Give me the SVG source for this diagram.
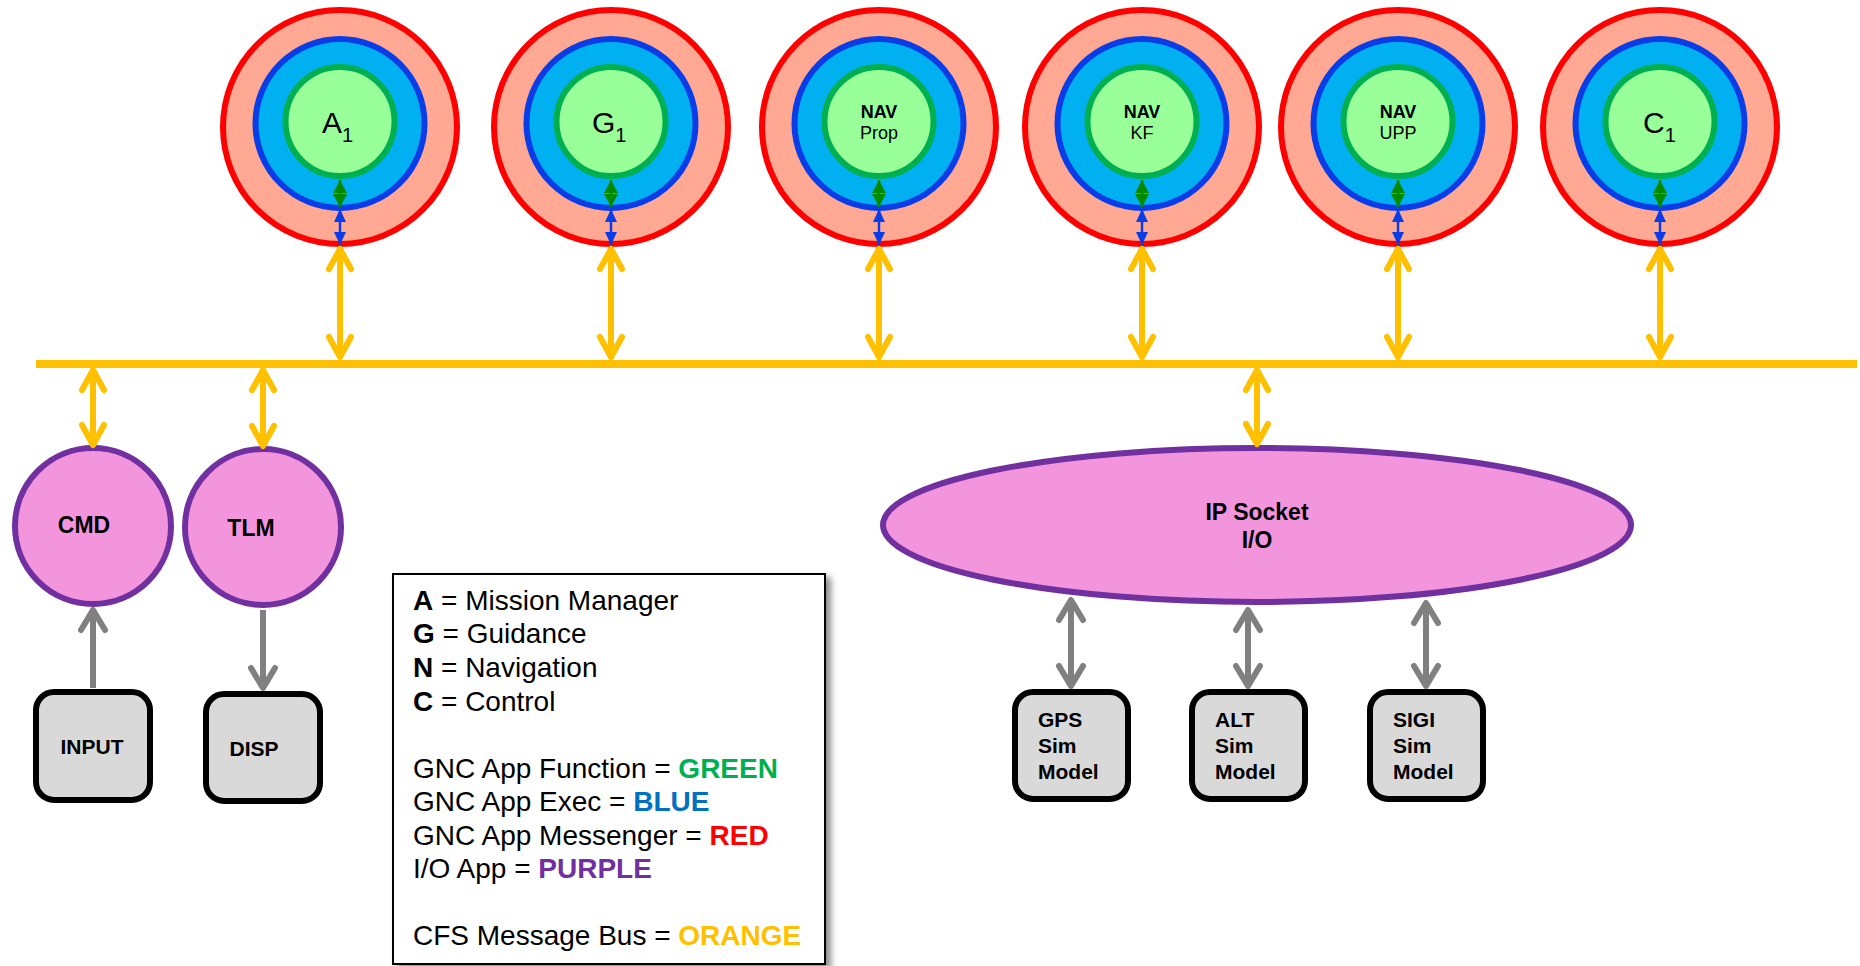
<svg xmlns="http://www.w3.org/2000/svg" width="1860" height="966" viewBox="0 0 1860 966">
  <style>
    text { font-family: "Liberation Sans", Arial, sans-serif; fill: #000; }
    .messenger { fill: #FFA893; stroke: #FF0000; stroke-width: 6; }
    .exec { fill: #00B0F0; stroke: #0A3CE8; stroke-width: 6; }
    .func { fill: #99FF99; stroke: #00B050; stroke-width: 6; }
    .io { fill: #F395DD; stroke: #7030A0; stroke-width: 6; }
    .model { fill: #D9D9D9; stroke: #000; stroke-width: 6; }
    .bus { stroke: #FFC000; stroke-width: 8; fill: none; }
    .bus-link { stroke: #FFC000; stroke-width: 6; fill: none; marker-start: url(#headY); marker-end: url(#headY); }
    .sim-link { stroke: #808080; stroke-width: 6; fill: none; marker-end: url(#headG); }
    .sim-link.both { marker-start: url(#headG); }
    .fx-link { stroke: #008A00; stroke-width: 2.5; fill: none; marker-start: url(#headSG); marker-end: url(#headSG); }
    .ex-link { stroke: #0A3CE8; stroke-width: 2.5; fill: none; marker-start: url(#headSB); marker-end: url(#headSB); }
    .sub { font-size: 30px; }
    .nav { font-size: 18px; text-anchor: middle; }
    .lbl { font-size: 23px; font-weight: bold; text-anchor: middle; }
    .mdl { font-size: 21px; font-weight: bold; }
    .legend { font-size: 28px; }
    .b { font-weight: bold; }
  </style>
  <defs>
    <marker id="headY" markerUnits="userSpaceOnUse" viewBox="0 0 26 26" markerWidth="26" markerHeight="26" refX="23" refY="13" orient="auto-start-reverse" overflow="visible">
      <path d="M3,2 L23,13 L3,24" fill="none" stroke="#FFC000" stroke-width="6" stroke-linecap="round" stroke-linejoin="round"/>
    </marker>
    <marker id="headG" markerUnits="userSpaceOnUse" viewBox="0 0 26 26" markerWidth="26" markerHeight="26" refX="23" refY="13" orient="auto-start-reverse" overflow="visible">
      <path d="M3,1 L23,13 L3,25" fill="none" stroke="#808080" stroke-width="6" stroke-linecap="round" stroke-linejoin="round"/>
    </marker>
    <marker id="headSG" markerUnits="userSpaceOnUse" viewBox="0 0 14 16" markerWidth="14" markerHeight="16" refX="13" refY="8" orient="auto-start-reverse" overflow="visible">
      <path d="M0,1 L13,8 L0,15 Z" fill="#008A00"/>
    </marker>
    <marker id="headSB" markerUnits="userSpaceOnUse" viewBox="0 0 14 16" markerWidth="14" markerHeight="16" refX="13" refY="8" orient="auto-start-reverse" overflow="visible">
      <path d="M0,2 L13,8 L0,14 Z" fill="#0A3CE8"/>
    </marker>
    <filter id="shadow" x="-5%" y="-5%" width="115%" height="115%">
      <feDropShadow dx="5" dy="4" stdDeviation="3" flood-color="#000" flood-opacity="0.45"/>
    </filter>
  </defs>

  <!-- GNC apps: messenger / exec / function rings -->
  <g id="app-A1">
    <circle class="messenger" cx="340" cy="127" r="117"/>
    <circle class="exec" cx="340" cy="123.5" r="84.5"/>
    <circle class="func" cx="340" cy="121.5" r="54.5"/>
    <text class="sub" x="322" y="133">A<tspan font-size="20" dy="9">1</tspan></text>
  </g>
  <g id="app-G1">
    <circle class="messenger" cx="611" cy="127" r="117"/>
    <circle class="exec" cx="611" cy="123.5" r="84.5"/>
    <circle class="func" cx="611" cy="121.5" r="54.5"/>
    <text class="sub" x="592" y="133">G<tspan font-size="20" dy="9">1</tspan></text>
  </g>
  <g id="app-nav-prop">
    <circle class="messenger" cx="879" cy="127" r="117"/>
    <circle class="exec" cx="879" cy="123.5" r="84.5"/>
    <circle class="func" cx="879" cy="121.5" r="54.5"/>
    <text class="nav b" x="879" y="118">NAV</text>
    <text class="nav" x="879" y="139">Prop</text>
  </g>
  <g id="app-nav-kf">
    <circle class="messenger" cx="1142" cy="127" r="117"/>
    <circle class="exec" cx="1142" cy="123.5" r="84.5"/>
    <circle class="func" cx="1142" cy="121.5" r="54.5"/>
    <text class="nav b" x="1142" y="118">NAV</text>
    <text class="nav" x="1142" y="139">KF</text>
  </g>
  <g id="app-nav-upp">
    <circle class="messenger" cx="1398" cy="127" r="117"/>
    <circle class="exec" cx="1398" cy="123.5" r="84.5"/>
    <circle class="func" cx="1398" cy="121.5" r="54.5"/>
    <text class="nav b" x="1398" y="118">NAV</text>
    <text class="nav" x="1398" y="139">UPP</text>
  </g>
  <g id="app-C1">
    <circle class="messenger" cx="1660" cy="127" r="117"/>
    <circle class="exec" cx="1660" cy="123.5" r="84.5"/>
    <circle class="func" cx="1660" cy="121.5" r="54.5"/>
    <text class="sub" x="1643" y="133">C<tspan font-size="20" dy="9">1</tspan></text>
  </g>

  <!-- I/O apps -->
  <g id="io-cmd">
    <circle class="io" cx="93" cy="526" r="78"/>
    <text class="lbl" x="84" y="533">CMD</text>
  </g>
  <g id="io-tlm">
    <circle class="io" cx="263" cy="527" r="78"/>
    <text class="lbl" x="251" y="536">TLM</text>
  </g>
  <g id="io-socket">
    <ellipse class="io" cx="1257" cy="525" rx="374" ry="77"/>
    <text class="lbl" x="1257" y="520">IP Socket</text>
    <text class="lbl" x="1257" y="548">I/O</text>
  </g>

  <!-- ground side devices and sim models -->
  <g id="dev-input">
    <rect class="model" x="36" y="692" width="114" height="108" rx="18"/>
    <text class="mdl" x="92" y="754" text-anchor="middle">INPUT</text>
  </g>
  <g id="dev-disp">
    <rect class="model" x="206" y="694" width="114" height="107" rx="18"/>
    <text class="mdl" x="254" y="756" text-anchor="middle">DISP</text>
  </g>
  <g id="sim-gps">
    <rect class="model" x="1015" y="692" width="113" height="107" rx="18"/>
    <text class="mdl" x="1038" y="727">GPS</text>
    <text class="mdl" x="1038" y="753">Sim</text>
    <text class="mdl" x="1038" y="779">Model</text>
  </g>
  <g id="sim-alt">
    <rect class="model" x="1192" y="692" width="113" height="107" rx="18"/>
    <text class="mdl" x="1215" y="727">ALT</text>
    <text class="mdl" x="1215" y="753">Sim</text>
    <text class="mdl" x="1215" y="779">Model</text>
  </g>
  <g id="sim-sigi">
    <rect class="model" x="1370" y="692" width="113" height="107" rx="18"/>
    <text class="mdl" x="1393" y="727">SIGI</text>
    <text class="mdl" x="1393" y="753">Sim</text>
    <text class="mdl" x="1393" y="779">Model</text>
  </g>

  <!-- legend -->
  <g id="legend">
    <rect x="393" y="574" width="432" height="390" fill="#fff" stroke="#000" stroke-width="2" filter="url(#shadow)"/>
    <text class="legend" x="413" y="610"><tspan class="b">A</tspan> = Mission Manager</text>
    <text class="legend" x="413" y="643"><tspan class="b">G</tspan> = Guidance</text>
    <text class="legend" x="413" y="677"><tspan class="b">N</tspan> = Navigation</text>
    <text class="legend" x="413" y="711"><tspan class="b">C</tspan> = Control</text>
    <text class="legend" x="413" y="778">GNC App Function = <tspan class="b" fill="#00B050">GREEN</tspan></text>
    <text class="legend" x="413" y="811">GNC App Exec = <tspan class="b" fill="#0070C0">BLUE</tspan></text>
    <text class="legend" x="413" y="845">GNC App Messenger = <tspan class="b" fill="#FF0000">RED</tspan></text>
    <text class="legend" x="413" y="878">I/O App = <tspan class="b" fill="#7030A0">PURPLE</tspan></text>
    <text class="legend" x="413" y="945">CFS Message Bus = <tspan class="b" fill="#FFC000">ORANGE</tspan></text>
  </g>

  <!-- connectors, drawn over the rings so the inner links stay visible -->
  <g id="connectors">
    <line id="cfs-bus" class="bus" x1="36" y1="364" x2="1857" y2="364"/>
    <!-- app to bus -->
    <line class="bus-link" x1="340" y1="249" x2="340" y2="357"/>
    <line class="bus-link" x1="611" y1="249" x2="611" y2="357"/>
    <line class="bus-link" x1="879" y1="249" x2="879" y2="357"/>
    <line class="bus-link" x1="1142" y1="249" x2="1142" y2="357"/>
    <line class="bus-link" x1="1398" y1="249" x2="1398" y2="357"/>
    <line class="bus-link" x1="1660" y1="249" x2="1660" y2="357"/>
    <!-- bus to I/O apps -->
    <line class="bus-link" x1="93" y1="370" x2="93" y2="445"/>
    <line class="bus-link" x1="263" y1="370" x2="263" y2="446"/>
    <line class="bus-link" x1="1257" y1="370" x2="1257" y2="444"/>
    <!-- function / exec links inside each app -->
    <line class="fx-link" x1="340" y1="180" x2="340" y2="207"/>
    <line class="ex-link" x1="340" y1="209" x2="340" y2="245"/>
    <line class="fx-link" x1="611" y1="180" x2="611" y2="207"/>
    <line class="ex-link" x1="611" y1="209" x2="611" y2="245"/>
    <line class="fx-link" x1="879" y1="180" x2="879" y2="207"/>
    <line class="ex-link" x1="879" y1="209" x2="879" y2="245"/>
    <line class="fx-link" x1="1142" y1="180" x2="1142" y2="207"/>
    <line class="ex-link" x1="1142" y1="209" x2="1142" y2="245"/>
    <line class="fx-link" x1="1398" y1="180" x2="1398" y2="207"/>
    <line class="ex-link" x1="1398" y1="209" x2="1398" y2="245"/>
    <line class="fx-link" x1="1660" y1="180" x2="1660" y2="207"/>
    <line class="ex-link" x1="1660" y1="209" x2="1660" y2="245"/>
    <!-- ground devices -->
    <line class="sim-link" x1="93" y1="688" x2="93" y2="610"/>
    <line class="sim-link" x1="263" y1="610" x2="263" y2="688"/>
    <line class="sim-link both" x1="1071" y1="600" x2="1071" y2="686"/>
    <line class="sim-link both" x1="1248" y1="610" x2="1248" y2="686"/>
    <line class="sim-link both" x1="1426" y1="603" x2="1426" y2="686"/>
  </g>
</svg>
